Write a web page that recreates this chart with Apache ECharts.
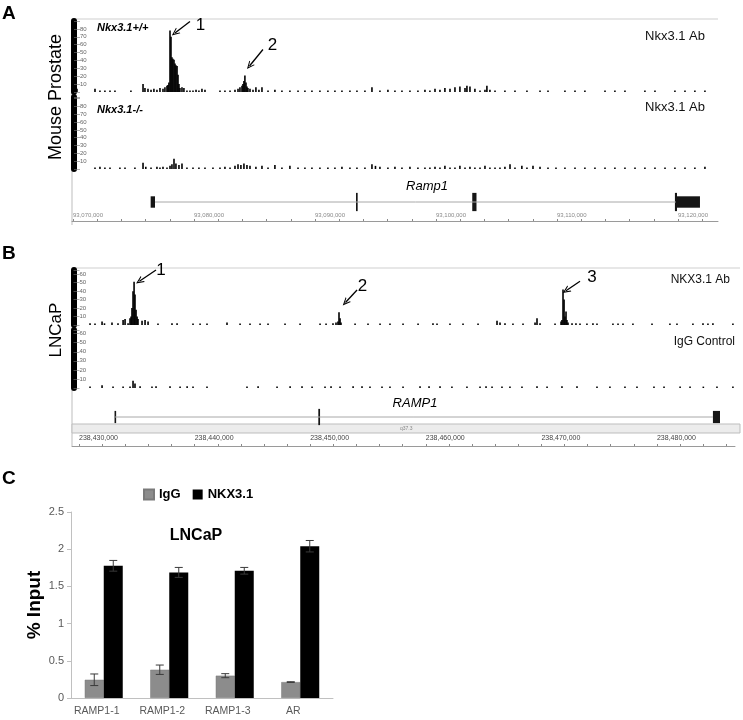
<!DOCTYPE html>
<html><head><meta charset="utf-8">
<script src="https://cdn.jsdelivr.net/npm/echarts@6/dist/echarts.min.js"></script>
<style>html,body{margin:0;padding:0;background:#fff}#c{width:743px;height:720px}</style>
</head><body><div id="c"></div>
<script>
const FONT = "'Liberation Sans', Arial, Helvetica, sans-serif";

// ---------- Panel A : mouse prostate ChIP-seq (x = kb offset from 93,070,000) ----------
const A_START = 93070000;
const A_RANGE = [-0.08, 53.31];
const A_LABEL_TICKS = [0, 10, 20, 30, 40, 50];
const A_MINOR_TICKS = [0,2,4,6,8,10,12,14,16,18,20,22,24,26,28,30,32,34,36,38,40,42,44,46,48,50,52];
const trackA_wt = [
  [0.33,4],[1.82,4],[2.23,1],[2.64,1],[3.06,1],[3.47,1],[4.79,2],
  [5.79,10],[5.95,5],[6.20,4],[6.45,3],[6.69,4],[6.94,3],[7.19,5],[7.44,4],[7.60,6],[7.77,8],[7.85,9],[7.93,12],
  [8.02,78],[8.10,70],[8.18,44],[8.26,42],[8.35,41],[8.43,36],[8.51,34],[8.60,33],[8.68,22],[8.76,10],[8.84,5],
  [9.01,6],[9.17,5],[9.42,2],[9.67,2],[9.92,2],[10.17,3],[10.41,2],[10.66,4],[10.91,3],
  [12.15,1],[12.56,2],[12.98,1],[13.39,3],[13.64,4],[13.80,6],[13.97,8],[14.05,10],[14.13,14],[14.21,21],[14.30,12],
  [14.38,7],[14.46,5],[14.63,4],[14.88,3],[15.12,6],[15.37,3],[15.62,6],[16.12,2],[16.69,3],[17.27,1],[17.93,2],
  [18.60,1],[19.17,1],[19.75,1],[20.41,2],[21.07,1],[21.65,1],[22.23,2],[22.89,1],[23.47,1],[24.13,2],[24.71,6],
  [25.37,2],[26.03,3],[26.61,2],[27.19,1],[27.85,2],[28.51,1],[29.09,3],[29.50,2],[29.92,4],[30.33,3],[30.74,5],
  [31.16,4],[31.57,6],[31.98,7],[32.40,5],[32.56,8],[32.81,7],[33.22,4],[33.64,2],[34.05,3],[34.21,8],[34.46,3],
  [34.88,2],[35.70,1],[36.53,1],[37.52,1],[38.60,1],[39.26,1],[40.66,1],[41.49,1],[42.31,1],[43.97,1],[44.79,1],
  [45.62,1],[47.27,1],[48.10,2],[49.75,1],[50.58,1],[51.40,1],[52.23,1]
];
const trackA_ko = [
  [1.82,2],[2.23,3],[2.64,2],[3.06,1],[3.88,1],[4.30,1],[5.12,1],[5.79,8],[6.02,3],[6.45,2],[6.94,3],[7.19,2],
  [7.44,3],[7.77,2],[8.02,4],[8.18,6],[8.35,13],[8.51,7],[8.76,5],[9.01,7],[9.42,1],[9.92,2],[10.41,1],[10.91,1],
  [11.57,2],[12.15,2],[12.56,3],[12.98,2],[13.39,4],[13.64,6],[13.88,5],[14.13,7],[14.38,5],[14.63,4],[15.12,3],
  [15.62,4],[16.12,1],[16.69,5],[17.27,2],[17.93,4],[18.60,1],[19.17,2],[19.75,1],[20.41,1],[21.07,2],[21.65,2],
  [22.23,3],[22.89,2],[23.47,1],[24.13,2],[24.71,6],[25.00,4],[25.37,3],[26.03,2],[26.61,3],[27.19,2],[27.85,3],
  [28.51,2],[29.09,2],[29.50,2],[29.92,3],[30.33,2],[30.74,4],[31.16,2],[31.57,2],[31.98,4],[32.40,2],[32.81,3],
  [33.22,2],[33.64,2],[34.05,4],[34.46,2],[34.88,2],[35.29,2],[35.70,3],[36.12,6],[36.53,2],[37.10,4],[37.52,2],
  [38.02,4],[38.60,3],[39.26,2],[39.92,2],[40.66,2],[41.49,1],[42.31,2],[43.14,2],[43.97,1],[44.79,2],[45.62,1],
  [46.45,1],[47.27,2],[48.10,1],[48.93,1],[49.75,2],[50.58,1],[51.40,2],[52.23,3]
];
const geneA_intron = [6.78, 49.83];
const geneA_exons = [[6.42,6.78,'short'],[23.39,23.53,'tall'],[33.00,33.35,'tall'],[49.75,49.92,'tall'],[49.83,51.82,'short']];
const arrowsA = [
  {label:'1', from:[9.67,89.4], to:[8.43,74.8], text:[10.54,84.9]},
  {label:'2', from:[15.70,53.9], to:[14.59,33.0], text:[16.49,58.9]}
];

// ---------- Panel B : LNCaP ChIP-seq (x = kb offset from 238,430,000) ----------
const B_START = 238430000;
const B_RANGE = [-0.61, 56.75];
const B_LABEL_TICKS = [0, 10, 20, 30, 40, 50];
const B_MINOR_TICKS = [0,2,4,6,8,10,12,14,16,18,20,22,24,26,28,30,32,34,36,38,40,42,44,46,48,50,52,54,56];
const trackB_nkx = [
  [0.95,2],[1.38,1],[1.99,4],[2.20,2],[2.85,3],[3.37,2],[3.81,6],[3.98,7],[4.24,2],[4.41,8],[4.50,10],[4.58,20],
  [4.67,40],[4.76,51],[4.84,36],[4.93,18],[5.02,10],[5.10,7],[5.45,5],[5.71,6],[5.97,4],[6.83,1],[8.04,2],[8.48,2],
  [9.86,1],[10.47,1],[11.07,1],[12.80,3],[13.93,1],[14.79,1],[15.66,1],[16.35,1],[17.82,1],[19.12,1],[20.85,1],
  [21.37,1],[21.97,2],[22.23,3],[22.40,4],[22.49,15],[22.58,8],[22.66,3],[23.88,1],[25.00,1],[26.04,1],[26.90,1],
  [28.03,1],[29.33,1],[30.62,2],[30.97,1],[32.09,1],[33.22,1],[34.52,1],[36.16,5],[36.42,3],[36.85,2],[37.54,1],
  [38.41,1],[39.45,3],[39.62,8],[39.88,2],[41.18,1],[41.70,4],[41.78,6],[41.87,42],[41.96,30],[42.04,10],[42.13,16],
  [42.21,6],[42.30,3],[42.65,2],[42.99,2],[43.34,1],[43.94,1],[44.46,2],[44.81,1],[46.19,1],[46.63,1],[47.06,1],
  [47.92,1],[49.57,1],[51.12,1],[51.73,1],[53.11,1],[53.98,2],[54.41,1],[54.84,2],[56.57,1]
];
const trackB_igg = [
  [0.95,1],[1.99,3],[2.94,1],[3.81,1],[4.41,1],[4.67,8],[4.84,5],[5.28,2],[6.31,1],[6.66,2],[7.87,2],[8.74,1],
  [9.35,2],[9.86,1],[11.07,1],[14.53,1],[15.49,2],[17.13,1],[18.26,2],[19.29,2],[20.16,1],[21.28,1],[21.80,2],
  [22.58,1],[23.71,2],[24.48,2],[25.17,1],[26.21,1],[26.90,1],[28.03,1],[29.50,2],[30.28,2],[31.23,2],[32.26,1],
  [33.56,1],[34.69,1],[35.21,2],[35.73,1],[36.59,1],[37.28,1],[38.32,1],[39.62,2],[40.49,1],[41.78,2],[43.08,2],
  [44.81,1],[45.93,1],[47.23,1],[48.27,1],[49.74,1],[50.61,1],[52.00,1],[52.86,1],[54.01,1],[55.19,1],[56.57,1]
];
const geneB_intron = [3.11, 54.84];
const geneB_exons = [[3.07,3.15,'short'],[20.70,20.85,'tall'],[54.84,55.45,'short']];
const arrowsB = [
  {label:'1', from:[6.66,64.9], to:[5.22,51.7], text:[7.09,64.9]},
  {label:'2', from:[24.05,41.4], to:[23.05,26.6], text:[24.52,45.5]},
  {label:'3', from:[43.34,51.7], to:[42.13,40.5], text:[44.38,56.7]}
];

// ---------- Panel C : ChIP-qPCR ----------
const categories = ['RAMP1-1', 'RAMP1-2', 'RAMP1-3', 'AR'];
const iggValues = [0.245, 0.38, 0.30, 0.214];
const iggErrors = [0.078, 0.063, 0.027, 0.005];
const nkxValues = [1.777, 1.688, 1.71, 2.04];
const nkxErrors = [0.072, 0.067, 0.045, 0.077];

// ---------- helpers ----------
const CHEVRON = 'path://M5,0 L10,10 L8.5,10 L5,3.2 L1.5,10 L0,10 Z';
const fmtA = v => (A_START + Math.round(v * 1000)).toLocaleString('en-US');
const fmtB = v => (B_START + Math.round(v * 1000)).toLocaleString('en-US');

function trackYAxis(gridIndex, max, offset, maxLabel) {
  return {
    gridIndex, type: 'value', min: 0, max, interval: 10, offset,
    axisLine: {show: true, onZero: false, lineStyle: {color: '#000', width: 6}},
    axisTick: {show: true, inside: true, length: 6, lineStyle: {color: '#777', width: 0.6}},
    axisLabel: {inside: true, margin: 6, fontSize: 6, color: '#666', fontFamily: FONT,
      formatter: v => (v === 0 || v > maxLabel) ? '' : String(v)},
    splitLine: {show: false}
  };
}
function hiddenX(gridIndex, range) {
  return {gridIndex, type: 'value', min: range[0], max: range[1], show: false};
}
function trackSeries(idx, data, arrows) {
  const s = {
    type: 'bar', xAxisIndex: idx, yAxisIndex: idx, data, barWidth: 1.6, barMinHeight: 1.4,
    itemStyle: {color: '#000'}, silent: true
  };
  if (arrows) {
    s.markLine = {
      silent: true, symbol: ['none', CHEVRON], symbolSize: [7, 8],
      lineStyle: {color: '#000', width: 1.3, type: 'solid'}, label: {show: false},
      data: arrows.map(a => [{coord: a.from}, {coord: a.to}])
    };
    s.markPoint = {
      silent: true, symbol: 'circle', symbolSize: 0,
      label: {show: true, position: 'inside', formatter: '{b}', fontSize: 17, color: '#000', fontFamily: FONT},
      data: arrows.map(a => ({name: a.label, coord: a.text}))
    };
  }
  return s;
}
function exonSeries(idx, exons, halfTall, halfShort) {
  return {
    type: 'custom', xAxisIndex: idx, yAxisIndex: idx, silent: true,
    data: exons.map(e => [e[0], e[1], e[2] === 'tall' ? halfTall : halfShort]),
    renderItem: (params, api) => {
      const p0 = api.coord([api.value(0), api.value(2)]);
      const p1 = api.coord([api.value(1), -api.value(2)]);
      return {type: 'rect', shape: {x: p0[0], y: p0[1], width: Math.max(p1[0] - p0[0], 1.6), height: p1[1] - p0[1]},
              style: {fill: '#151515'}};
    }
  };
}
function intronSeries(idx, intron) {
  return {type: 'line', xAxisIndex: idx, yAxisIndex: idx, data: [[intron[0], 0], [intron[1], 0]],
          symbol: 'none', silent: true, lineStyle: {color: '#a8a8a8', width: 1}};
}
function errorSeries(values, errors, offset) {
  return {
    type: 'custom', xAxisIndex: 7, yAxisIndex: 7, silent: true, z: 5,
    data: values.map((v, i) => [i, v, errors[i]]),
    renderItem: (params, api) => {
      const i = api.value(0), v = api.value(1), e = api.value(2);
      const top = api.coord([i, v + e]);
      const bot = api.coord([i, v - e]);
      const x = top[0] + offset;
      const st = {stroke: '#3a3a3a', lineWidth: 1};
      return {type: 'group', children: [
        {type: 'line', shape: {x1: x, y1: top[1], x2: x, y2: bot[1]}, style: st},
        {type: 'line', shape: {x1: x - 4, y1: top[1], x2: x + 4, y2: top[1]}, style: st},
        {type: 'line', shape: {x1: x - 4, y1: bot[1], x2: x + 4, y2: bot[1]}, style: st}
      ]};
    }
  };
}
function txt(text, x, y, size, opts) {
  opts = opts || {};
  return {type: 'text', x, y, rotation: opts.rot || 0, silent: true,
    style: {text, fill: opts.color || '#000', font: (opts.style || 'normal') + ' ' + (opts.weight || 'normal') + ' ' + size + 'px ' + FONT,
            align: opts.align || 'left', verticalAlign: 'middle'}};
}
function hline(x1, x2, y, color) {
  return {type: 'line', silent: true, shape: {x1, y1: y, x2, y2: y}, style: {stroke: color, lineWidth: 1}};
}
function vline(x, y1, y2, color) {
  return {type: 'line', silent: true, shape: {x1: x, y1, x2: x, y2}, style: {stroke: color, lineWidth: 1}};
}
function rulerX(gridIndex, range, labelTicks, minorTicks, fmt, fontSize, color, margin) {
  return {gridIndex, type: 'value', min: range[0], max: range[1], position: 'bottom',
    axisLine: {show: true, onZero: false, lineStyle: {color: '#9a9a9a', width: 1}},
    axisTick: {show: true, inside: true, length: 2, customValues: minorTicks, lineStyle: {color: '#888'}},
    axisLabel: {inside: true, customValues: labelTicks, formatter: fmt, fontSize, color, align: 'left', margin},
    splitLine: {show: false}};
}

const chart = echarts.init(document.getElementById('c'), null, {renderer: 'canvas'});
chart.setOption({
  animation: false,
  textStyle: {fontFamily: FONT},
  grid: [
    {left: 72, top: 21, width: 646, height: 71},   // 0 A wt
    {left: 72, top: 97, width: 646, height: 72},   // 1 A ko
    {left: 72, top: 183, width: 646, height: 38},  // 2 A gene + ruler
    {left: 72, top: 270, width: 663, height: 55},  // 3 B NKX3.1
    {left: 72, top: 330, width: 663, height: 58},  // 4 B IgG
    {left: 72, top: 388, width: 663, height: 58},  // 5 B gene + ruler
    {left: 0, top: 0, width: 10, height: 10, show: false}, // 6 unused
    {left: 71, top: 512, width: 262, height: 186}  // 7 panel C
  ],
  xAxis: [
    hiddenX(0, A_RANGE),
    hiddenX(1, A_RANGE),
    rulerX(2, A_RANGE, A_LABEL_TICKS, A_MINOR_TICKS, fmtA, 6, '#8a8a8a', 3),
    hiddenX(3, B_RANGE),
    hiddenX(4, B_RANGE),
    rulerX(5, B_RANGE, B_LABEL_TICKS, B_MINOR_TICKS, fmtB, 7, '#444', 4),
    {gridIndex: 6, type: 'value', show: false},
    {gridIndex: 7, type: 'category', data: categories,
      axisLine: {show: true, lineStyle: {color: '#c0c0c0'}}, axisTick: {show: false},
      axisLabel: {color: '#595959', fontSize: 10.5, margin: 8, padding: [0, 14, 0, 0]}}
  ],
  yAxis: [
    trackYAxis(0, 90, -2, 80),
    trackYAxis(1, 92, -2, 80),
    {gridIndex: 2, type: 'value', min: -1, max: 1, show: false},
    trackYAxis(3, 65, -1.5, 60),
    trackYAxis(4, 64, -1.5, 60),
    {gridIndex: 5, type: 'value', min: -1, max: 1, show: false},
    {gridIndex: 6, type: 'value', show: false},
    {gridIndex: 7, type: 'value', min: 0, max: 2.5, interval: 0.5,
      axisLine: {show: true, lineStyle: {color: '#c0c0c0'}},
      axisTick: {show: true, length: 4, lineStyle: {color: '#c0c0c0'}},
      axisLabel: {color: '#595959', fontSize: 11, margin: 7, formatter: v => String(v)},
      splitLine: {show: false},
      name: '% Input', nameLocation: 'middle', nameGap: 27, nameRotate: 90,
      nameTextStyle: {fontWeight: 'bold', fontSize: 19, color: '#000'}}
  ],
  legend: {
    data: ['IgG', 'NKX3.1'], left: 143, top: 488, padding: 0, itemWidth: 10, itemHeight: 10, itemGap: 12, icon: 'rect',
    textStyle: {fontWeight: 'bold', fontSize: 13, color: '#000'}
  },
  series: [
    trackSeries(0, trackA_wt, arrowsA),
    trackSeries(1, trackA_ko, null),
    intronSeries(2, geneA_intron),
    exonSeries(2, geneA_exons, 0.48, 0.3),
    trackSeries(3, trackB_nkx, arrowsB),
    trackSeries(4, trackB_igg, null),
    intronSeries(5, geneB_intron),
    exonSeries(5, geneB_exons, 0.28, 0.21),
    {name: 'IgG', type: 'bar', xAxisIndex: 7, yAxisIndex: 7, data: iggValues, barWidth: 19, barGap: '0%',
      itemStyle: {color: '#8c8c8c', borderColor: '#7a7a7a', borderWidth: 0.5}},
    {name: 'NKX3.1', type: 'bar', xAxisIndex: 7, yAxisIndex: 7, data: nkxValues, barWidth: 19, barGap: '0%',
      itemStyle: {color: '#000'}},
    errorSeries(iggValues, iggErrors, -9.5),
    errorSeries(nkxValues, nkxErrors, 9.5)
  ],
  graphic: [
    hline(72, 718, 19, '#cfcfcf'),
    vline(72, 19, 225, '#bdbdbd'),
    hline(72, 740, 268, '#cfcfcf'),
    vline(72, 390, 446, '#bdbdbd'),
    {type: 'rect', silent: true, shape: {x: 72, y: 424, width: 668, height: 9}, style: {fill: '#ececec', stroke: '#bdbdbd', lineWidth: 1}},
    txt('q37.3', 400, 429, 5, {color: '#888'}),
    txt('A', 2, 14, 19, {weight: 'bold'}),
    txt('B', 2, 254, 19, {weight: 'bold'}),
    txt('C', 2, 479, 19, {weight: 'bold'}),
    txt('Mouse Prostate', 56, 97, 18, {rot: Math.PI / 2, align: 'center'}),
    txt('LNCaP', 56, 330, 17, {rot: Math.PI / 2, align: 'center'}),
    txt('Nkx3.1+/+', 97, 28, 11, {weight: 'bold', style: 'italic'}),
    txt('Nkx3.1-/-', 97, 110, 11, {weight: 'bold', style: 'italic'}),
    txt('Nkx3.1 Ab', 705, 36, 13, {align: 'right', color: '#111'}),
    txt('Nkx3.1 Ab', 705, 107, 13, {align: 'right', color: '#111'}),
    txt('Ramp1', 427, 186, 13, {style: 'italic', align: 'center'}),
    txt('NKX3.1 Ab', 730, 280, 12, {align: 'right', color: '#111'}),
    txt('IgG Control', 735, 342, 12, {align: 'right', color: '#111'}),
    txt('RAMP1', 415, 403, 13, {style: 'italic', align: 'center'}),
    txt('LNCaP', 196, 536, 16, {weight: 'bold', align: 'center'})
  ]
});
</script></body></html>
